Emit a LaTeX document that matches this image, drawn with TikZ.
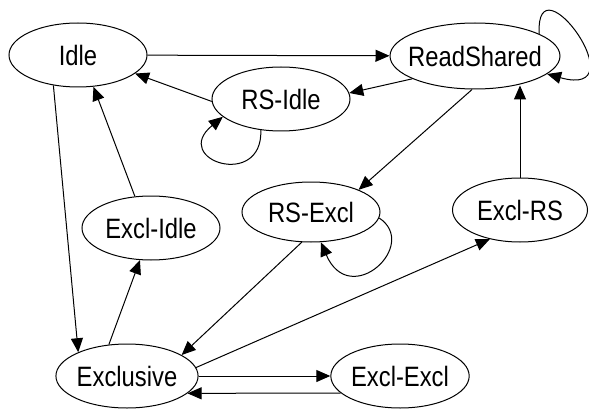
\documentclass[tikz,border=0pt]{standalone}
\usepackage{fontspec}
\setmainfont{Liberation Sans}[FakeStretch=0.85]
\usepackage{xcolor}
\usepackage{tikz}
\usetikzlibrary{shapes.geometric,arrows.meta}

\tikzset{state/.style={draw, ellipse, minimum width=138pt, minimum height=64pt, inner sep=0pt, font=\fontsize{28}{30}\selectfont}}

\begin{document}
\begin{tikzpicture}[x=1pt, y=-1pt, line width=1pt, >={Triangle[length=14pt,width=12pt]}]
		\useasboundingbox (0,0) rectangle (589,409);
		\draw
		node[state] at (78,55) (idle) {Idle}
		node[state, minimum width=170pt, minimum height=66pt, inner xsep=-7pt] at (475,56) (rs) {ReadShared}
		node[state] at (281,99) (rsi) {RS-Idle}
		node[state] at (151,228) (xi) {Excl-Idle}
		node[state, minimum height=60pt] at (311,212) (rx) {RS-Excl}
		node[state, minimum width=135pt] at (520,210) (xrs) {Excl-RS}
		node[state] at (127,376) (ex) {Exclusive}
		node[state] at (400,376) (xx) {Excl-Excl}
		(idle) edge[->] (rs)
		(rsi.182) edge[->] (idle.-18)
		(rs.200) edge[->] (rsi.5)
		(rs.265) edge[->] (rx.25)
		(xrs.north) edge[->] (xrs.north |- rs.-36)
		(xi.117) edge[->] (idle.296)
		(idle.231) edge[->] (ex.154)
		(ex.120) edge[->] (xi.251)
		(rx.253) edge[->] (ex.21)
		(ex.7) edge[->] (xrs.224)
		(ex) edge[->] (xx)
		(xx.196) edge[->] (ex.-16);
		\draw[->] (rsi.237) .. controls (263,190) and (170,160) .. (rsi.197);
		\draw[->] (rs.19) .. controls (535,-45) and (640,100) .. (rs.-14);
		\draw[->] (rx.-5) .. controls (420,245) and (350,310) .. (rx.-72);
\end{tikzpicture}
\end{document}
